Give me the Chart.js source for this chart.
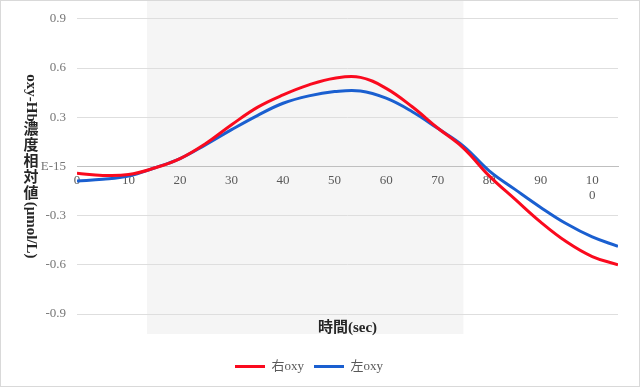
<!DOCTYPE html>
<html>
<head>
<meta charset="utf-8">
<script src="https://cdn.jsdelivr.net/npm/chart.js@4.4.1/dist/chart.umd.min.js"></script>
<style>
  html, body { margin: 0; padding: 0; background: #fff; }
</style>
</head>
<body>
<canvas id="oxyChart" width="640" height="387"></canvas>
<script>
// time (sec) and relative oxy-Hb values
const times = [0, 5, 10, 15, 20, 25, 30, 35, 40, 45, 50, 55, 60, 65, 70, 75, 80, 85, 90, 95, 100, 105];
const rightOxy = [-0.042, -0.055, -0.050, -0.010, 0.048, 0.140, 0.254, 0.360, 0.436, 0.497, 0.538, 0.543, 0.476, 0.365, 0.234, 0.112, -0.058, -0.200, -0.340, -0.460, -0.550, -0.600];
const leftOxy = [-0.089, -0.079, -0.059, -0.010, 0.048, 0.133, 0.224, 0.310, 0.385, 0.430, 0.456, 0.460, 0.416, 0.335, 0.232, 0.124, -0.027, -0.140, -0.250, -0.350, -0.430, -0.487];
const seriesNames = ['右oxy', '左oxy'];
const yTickLabels = ['-0.9', '-0.6', '-0.3', 'E-15', '0.3', '0.6', '0.9'];
const yTitle = 'oxy-Hb濃度相対値(μmol/L)';
const xTitle = '時間(sec)';
const taskStart = 13.6;
const taskEnd = 75;

const fontFamily = "'Liberation Serif', 'Noto Sans CJK JP', serif";

// grey band for the task period, behind everything
const taskShade = {
    id: 'taskShade',
    beforeDraw(chart) {
        const { ctx, chartArea } = chart;
        const x = chart.scales.x;
        const left = x.getPixelForValue(taskStart);
        const right = x.getPixelForValue(taskEnd);
        ctx.save();
        ctx.fillStyle = '#f5f5f5';
        ctx.fillRect(left, 1, right - left, chartArea.bottom + 20 - 1);
        ctx.restore();
    }
};

// vertical y title: latin runs turned clockwise, kanji upright
const verticalTitle = {
    id: 'verticalTitle',
    afterDraw(chart) {
        const { ctx, chartArea } = chart;
        const size = 15;
        ctx.save();
        ctx.font = 'bold ' + size + 'px ' + fontFamily;
        ctx.fillStyle = '#262626';
        const runs = [];
        for (const ch of yTitle) {
            const cjk = ch.charCodeAt(0) > 0x2e80;
            const last = runs[runs.length - 1];
            if (last && !cjk && !last.cjk) last.text += ch;
            else runs.push({ text: ch, cjk: cjk });
        }
        const lengths = runs.map(r => r.cjk ? size + 1 : ctx.measureText(r.text).width);
        const total = lengths.reduce((a, b) => a + b, 0);
        let y = (chartArea.top + chartArea.bottom) / 2 - total / 2;
        const cx = 31;
        runs.forEach((r, i) => {
            ctx.textBaseline = 'middle';
            if (r.cjk) {
                ctx.textAlign = 'center';
                ctx.fillText(r.text, cx, y + lengths[i] / 2);
            } else {
                ctx.save();
                ctx.translate(cx, y);
                ctx.rotate(Math.PI / 2);
                ctx.textAlign = 'left';
                ctx.fillText(r.text, 0, 0);
                ctx.restore();
            }
            y += lengths[i];
        });
        ctx.restore();
    }
};

const frame = {
    id: 'frame',
    afterDraw(chart) {
        const ctx = chart.ctx;
        ctx.save();
        ctx.strokeStyle = '#d9d9d9';
        ctx.lineWidth = 1;
        ctx.strokeRect(0.5, 0.5, chart.width - 1, chart.height - 1);
        ctx.restore();
    }
};

const ctx = document.getElementById('oxyChart').getContext('2d');
new Chart(ctx, {
    type: 'line',
    data: {
        labels: times,
        datasets: [{
            label: seriesNames[0],
            data: times.map((t, i) => ({ x: t, y: rightOxy[i] })),
            borderColor: '#fa0a1e',
            backgroundColor: '#fa0a1e',
            borderWidth: 3,
            pointRadius: 0,
            tension: 0.4,
            fill: false
        }, {
            label: seriesNames[1],
            data: times.map((t, i) => ({ x: t, y: leftOxy[i] })),
            borderColor: '#1a5fd0',
            backgroundColor: '#1a5fd0',
            borderWidth: 3,
            pointRadius: 0,
            tension: 0.4,
            fill: false
        }]
    },
    options: {
        responsive: false,
        animation: false,
        layout: {
            padding: { top: 16, right: 22, bottom: 4, left: 0 }
        },
        scales: {
            x: {
                type: 'linear',
                position: { y: 0 },
                min: 0,
                max: 105,
                grid: { display: false, drawTicks: false },
                border: { display: true, color: '#bfbfbf', width: 1 },
                ticks: {
                    stepSize: 10,
                    includeBounds: false,
                    maxRotation: 0,
                    autoSkip: false,
                    padding: 6,
                    color: '#595959',
                    font: { size: 13, family: fontFamily },
                    callback: v => v === 100 ? ['10', '0'] : String(v)
                }
            },
            y: {
                min: -0.9,
                max: 0.9,
                grid: {
                    color: c => (c.tick && Math.abs(c.tick.value) < 1e-9) ? '#bfbfbf' : '#dedede',
                    drawTicks: false
                },
                border: { display: false },
                ticks: {
                    stepSize: 0.3,
                    padding: 11,
                    color: '#767676',
                    font: { size: 13, family: fontFamily },
                    callback: (v, i) => yTickLabels[i]
                },
                afterFit: s => { s.width = 77; }
            }
        },
        plugins: {
            legend: {
                position: 'bottom',
                labels: {
                    usePointStyle: true,
                    pointStyle: 'line',
                    pointStyleWidth: 30,
                    padding: 10,
                    color: '#595959',
                    font: { size: 13, family: fontFamily }
                }
            },
            title: {
                display: true,
                text: xTitle,
                position: 'bottom',
                fullSize: false,
                weight: 500,
                color: '#262626',
                font: { size: 15, weight: 'bold', family: fontFamily },
                padding: { top: 5, bottom: 13 }
            },
            tooltip: { enabled: false }
        }
    },
    plugins: [taskShade, verticalTitle, frame]
});
</script>
</body>
</html>
